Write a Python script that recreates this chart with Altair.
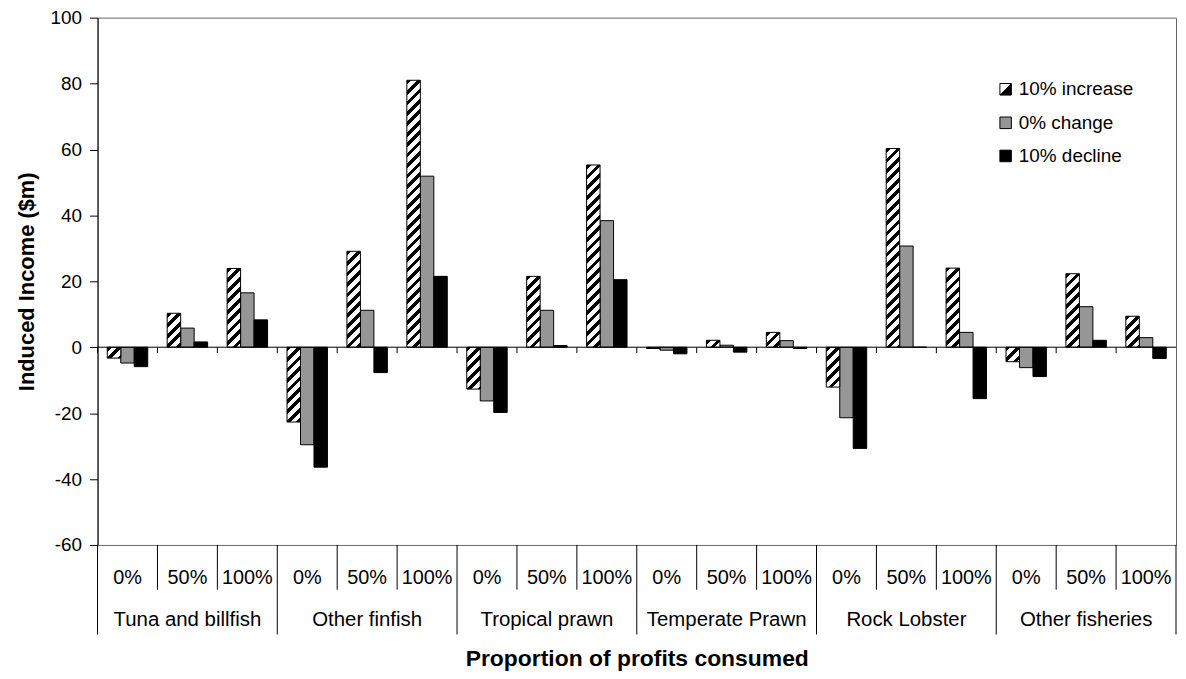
import altair as alt
import pandas as pd

# ---------------- data ----------------
fisheries = ["Tuna and billfish", "Other finfish", "Tropical prawn",
             "Temperate Prawn", "Rock Lobster", "Other fisheries"]
proportions = ["0%", "50%", "100%"]
series = ["10% increase", "0% change", "10% decline"]

increase = [-3.3, 10.3, 23.9, -22.7, 29.1, 81.0, -12.7, 21.5, 55.3,
            -0.4, 2.1, 4.5, -12.1, 60.3, 24.0, -4.4, 22.3, 9.4]
change = [-4.8, 5.8, 16.5, -29.6, 11.2, 51.9, -16.3, 11.2, 38.4,
          -0.9, 0.6, 2.0, -21.4, 30.7, 4.5, -6.2, 12.3, 2.9]
decline = [-5.9, 1.6, 8.3, -36.4, -7.7, 21.5, -19.8, 0.5, 20.5,
           -2.0, -1.5, -0.4, -30.7, 0.0, -15.6, -8.9, 2.1, -3.4]

y_ticks = [-60, -40, -20, 0, 20, 40, 60, 80, 100]

# ---------------- layout / style ----------------
FONT = "Liberation Sans"
W, H = 1084, 530
Y_MIN, Y_MAX = -60, 100
PAD_INNER, PAD_OUTER = 0.325, 0.1625
N_SLOTS = len(fisheries) * len(proportions)
STEP = W / (N_SLOTS - PAD_INNER + 2 * PAD_OUTER)
BAR_W = STEP * (1 - PAD_INNER) / len(series)
PX_PER_UNIT = H / (Y_MAX - Y_MIN)
GRAY = "#969696"

rows, slots, slot_f, slot_p = [], [], [], []
for fi, f in enumerate(fisheries):
    for pi, p in enumerate(proportions):
        slot = f + "|" + p
        slots.append(slot)
        slot_f.append(f)
        slot_p.append(p)
        idx = fi * len(proportions) + pi
        for s, vals in zip(series, [increase, change, decline]):
            rows.append({"slot": slot, "fishery": f, "prop": p,
                         "series": s, "value": vals[idx], "idx": idx})
df = pd.DataFrame(rows)
slot_df = pd.DataFrame({"slot": slots, "fishery": slot_f, "prop": slot_p})

x_scale = alt.Scale(domain=slots, paddingInner=PAD_INNER, paddingOuter=PAD_OUTER)
y_scale = alt.Scale(domain=[Y_MIN, Y_MAX], nice=False)
xo_scale = alt.Scale(domain=series, paddingInner=0, paddingOuter=0)

x_axis = alt.Axis(labels=False, ticks=False, domain=False, grid=False,
                  title="Proportion of profits consumed", titleFont=FONT,
                  titleFontSize=23, titleFontWeight="bold", titleColor="black",
                  titleX=W / 2, titleY=114, titleBaseline="middle", titleAlign="center")
y_axis = alt.Axis(values=y_ticks, grid=False, tickSize=8, tickColor="black",
                  domainColor="black", labelFont=FONT, labelFontSize=19,
                  labelColor="black", labelPadding=8,
                  labelExpr="toString(datum.value)",
                  title="Induced Income ($m)", titleFont=FONT, titleFontSize=22,
                  titleFontWeight="bold", titleColor="black", titleX=-71,
                  titleY=H / 2, titleAngle=270, titleAlign="center",
                  titleBaseline="middle")

x_enc = alt.X("slot:N", scale=x_scale, axis=x_axis, title="Proportion of profits consumed")
xo = alt.XOffset("series:N", scale=xo_scale)


def y_val():
    return alt.Y("value:Q", scale=y_scale, axis=y_axis, title="Induced Income ($m)")


def y_zero():
    return alt.YDatum(0, scale=y_scale, axis=y_axis, title="Induced Income ($m)")


def stripe_gradient(w, h, period=10.5, black=0.45):
    L = max(w + h, 1e-6)
    stops = []
    c = 0.0
    while c < L:
        a = c / L
        b = min(c + black * period, L) / L
        e = min(c + period, L) / L
        stops += [("black", a), ("black", b), ("white", b), ("white", e)]
        c += period
    k = (w + h) / (w * w + h * h)
    return alt.LinearGradient(
        gradient="linear", x1=0, y1=0, x2=k * w, y2=k * h,
        stops=[alt.GradientStop(color=col, offset=off) for col, off in stops])


layers = []

# solid bars (0% change, 10% decline)
solid = alt.Chart(df).transform_filter(
    alt.FieldOneOfPredicate(field="series", oneOf=series[1:])
).mark_bar(stroke="black", strokeWidth=1).encode(
    x=x_enc,
    xOffset=xo,
    y=y_val(),
    fill=alt.Fill("series:N", scale=alt.Scale(domain=series[1:], range=[GRAY, "#000000"]),
                  legend=None),
)
layers.append(solid)

# hatched bars (10% increase), one layer per bar so the hatch keeps a 45 degree angle
for idx, v in enumerate(increase):
    h = abs(v) * PX_PER_UNIT
    grad = stripe_gradient(BAR_W, h)
    layers.append(
        alt.Chart(df).transform_filter(
            (alt.datum.series == series[0]) & (alt.datum.idx == idx)
        ).mark_bar(stroke="black", strokeWidth=1, fill=grad).encode(
            x=x_enc, xOffset=xo, y=y_val(),
        )
    )

# zero line
layers.append(alt.Chart(slot_df.head(1)).mark_rule(color="black", strokeWidth=1).encode(
    y=y_zero()))

# small ticks under the zero line at group boundaries
layers.append(alt.Chart(slot_df).mark_rule(color="black", strokeWidth=1, xOffset=-STEP / 2).encode(
    x=x_enc, y=y_zero(), y2=alt.Y2Datum(-1.8)))

# category separators below the plot
long_df = slot_df[slot_df["prop"] == proportions[0]]
short_df = slot_df[slot_df["prop"] != proportions[0]]
layers.append(alt.Chart(long_df).mark_rule(color="black", strokeWidth=1, xOffset=-STEP / 2).encode(
    x=x_enc, y=alt.value(H), y2=alt.value(H + 90)))
layers.append(alt.Chart(slot_df.tail(1)).mark_rule(color="black", strokeWidth=1, xOffset=STEP / 2).encode(
    x=x_enc, y=alt.value(H), y2=alt.value(H + 90)))
layers.append(alt.Chart(short_df).mark_rule(color="black", strokeWidth=1, xOffset=-STEP / 2).encode(
    x=x_enc, y=alt.value(H), y2=alt.value(H + 45)))

# category labels
layers.append(alt.Chart(slot_df).mark_text(font=FONT, fontSize=20, color="black",
                                           baseline="alphabetic", align="center").encode(
    x=x_enc, y=alt.value(569), text="prop:N"))
layers.append(alt.Chart(slot_df[slot_df["prop"] == proportions[1]]).mark_text(
    font=FONT, fontSize=20.5, color="black", baseline="alphabetic", align="center").encode(
    x=x_enc, y=alt.value(611), text="fishery:N"))

# legend (inside the plot, top right)
leg_rows = [72, 105.7, 139]
leg_fills = [alt.LinearGradient(gradient="linear", x1=0, y1=0, x2=1, y2=1,
                                stops=[alt.GradientStop(color="white", offset=0),
                                       alt.GradientStop(color="white", offset=0.5),
                                       alt.GradientStop(color="black", offset=0.5),
                                       alt.GradientStop(color="black", offset=1)]),
             GRAY, "#000000"]
for s, yc, fl in zip(series, leg_rows, leg_fills):
    d = pd.DataFrame({"label": [s]})
    layers.append(alt.Chart(d).mark_rect(stroke="black", strokeWidth=1, fill=fl).encode(
        x=alt.value(907), x2=alt.value(918.5), y=alt.value(yc - 5.8), y2=alt.value(yc + 5.8)))
    layers.append(alt.Chart(d).mark_text(font=FONT, fontSize=19, color="black",
                                         align="left", baseline="middle").encode(
        x=alt.value(926), y=alt.value(yc), text="label:N"))

chart = alt.layer(*layers).properties(
    width=W, height=H,
    padding={"left": 90, "top": 8, "right": 2, "bottom": 125},
    autosize=alt.AutoSizeParams(type="none"),
    background="white",
).configure_view(stroke="#666666", strokeWidth=1)

chart.save("out.html", embed_options={"renderer": "svg", "actions": False})
